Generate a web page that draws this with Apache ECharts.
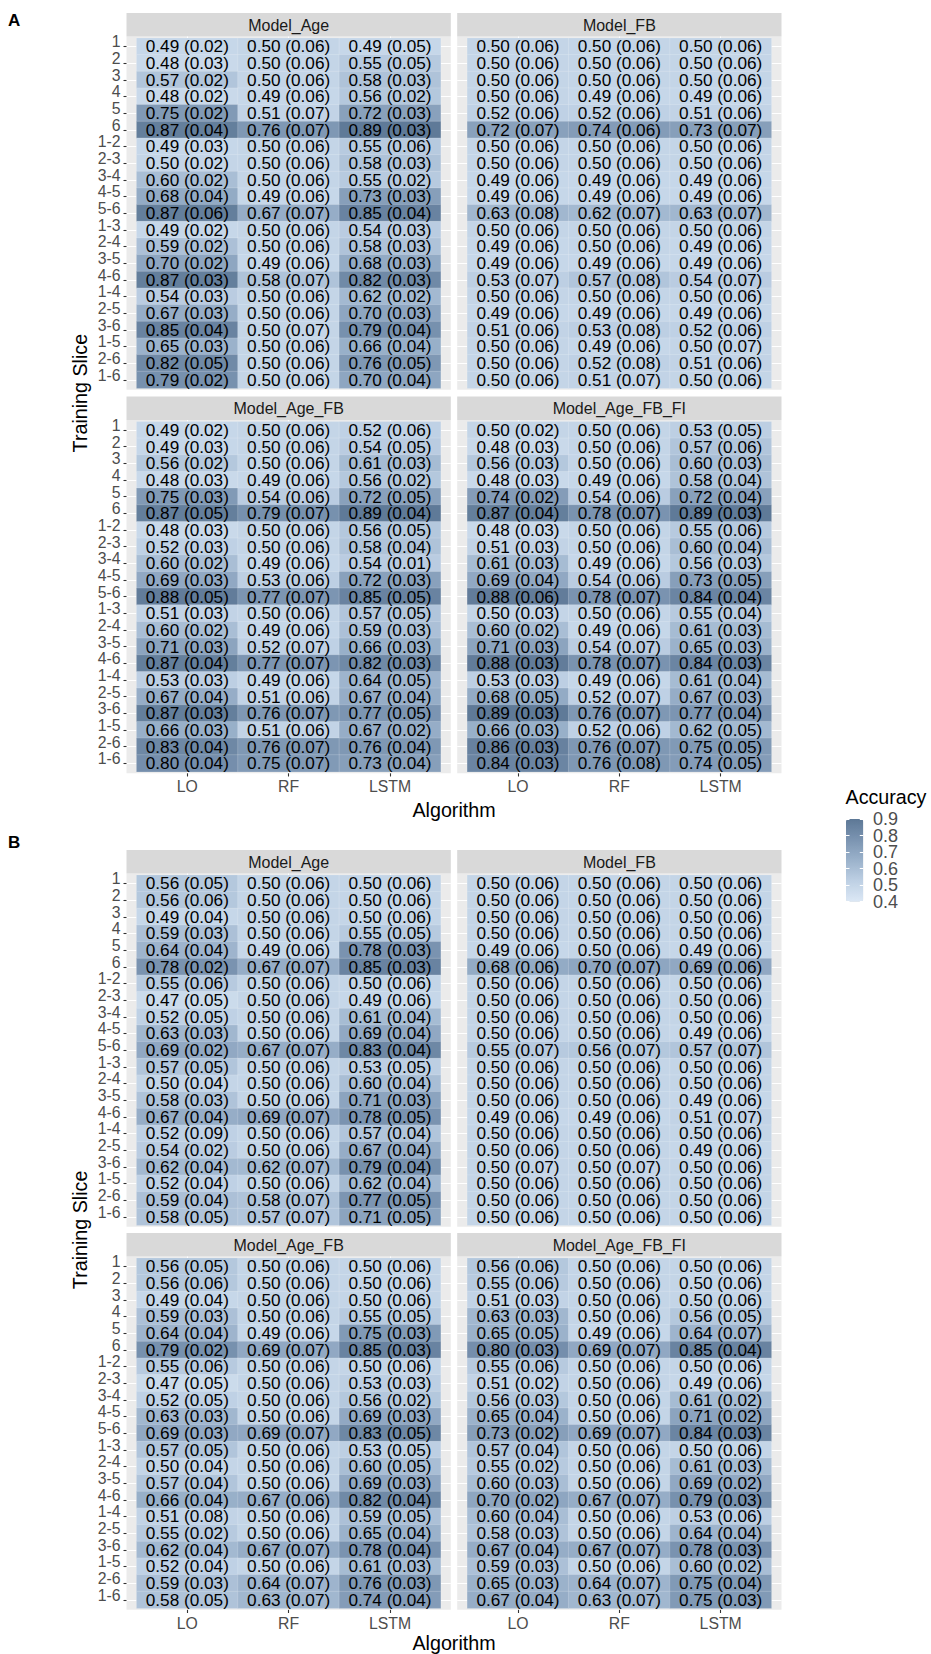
<!DOCTYPE html>
<html>
<head>
<meta charset="utf-8">
<script src="https://cdn.jsdelivr.net/npm/echarts@6/dist/echarts.min.js"></script>
<style>
html,body{margin:0;padding:0;background:#fff;}
#chart{width:931px;height:1654px;}
</style>
</head>
<body>
<div id="chart"></div>
<script>
// ---------------- DATA ----------------
const algorithms = ['LO', 'RF', 'LSTM'];
const slices = ['1','2','3','4','5','6','1-2','2-3','3-4','4-5','5-6','1-3','2-4','3-5','4-6','1-4','2-5','3-6','1-5','2-6','1-6'];
const facetNames = ['Model_Age', 'Model_FB', 'Model_Age_FB', 'Model_Age_FB_FI'];
const legendTicks = ['0.4', '0.5', '0.6', '0.7', '0.8', '0.9'];

// Panel A  (rows = slices, columns = LO, RF, LSTM)
const A_Age_acc = [[0.49,0.50,0.49],[0.48,0.50,0.55],[0.57,0.50,0.58],[0.48,0.49,0.56],[0.75,0.51,0.72],[0.87,0.76,0.89],
  [0.49,0.50,0.55],[0.50,0.50,0.58],[0.60,0.50,0.55],[0.68,0.49,0.73],[0.87,0.67,0.85],
  [0.49,0.50,0.54],[0.59,0.50,0.58],[0.70,0.49,0.68],[0.87,0.58,0.82],
  [0.54,0.50,0.62],[0.67,0.50,0.70],[0.85,0.50,0.79],[0.65,0.50,0.66],[0.82,0.50,0.76],[0.79,0.50,0.70]];
const A_Age_sd = [[0.02,0.06,0.05],[0.03,0.06,0.05],[0.02,0.06,0.03],[0.02,0.06,0.02],[0.02,0.07,0.03],[0.04,0.07,0.03],
  [0.03,0.06,0.06],[0.02,0.06,0.03],[0.02,0.06,0.02],[0.04,0.06,0.03],[0.06,0.07,0.04],
  [0.02,0.06,0.03],[0.02,0.06,0.03],[0.02,0.06,0.03],[0.03,0.07,0.03],
  [0.03,0.06,0.02],[0.03,0.06,0.03],[0.04,0.07,0.04],[0.03,0.06,0.04],[0.05,0.06,0.05],[0.02,0.06,0.04]];

const A_FB_acc = [[0.50,0.50,0.50],[0.50,0.50,0.50],[0.50,0.50,0.50],[0.50,0.49,0.49],[0.52,0.52,0.51],[0.72,0.74,0.73],
  [0.50,0.50,0.50],[0.50,0.50,0.50],[0.49,0.49,0.49],[0.49,0.49,0.49],[0.63,0.62,0.63],
  [0.50,0.50,0.50],[0.49,0.50,0.49],[0.49,0.49,0.49],[0.53,0.57,0.54],
  [0.50,0.50,0.50],[0.49,0.49,0.49],[0.51,0.53,0.52],[0.50,0.49,0.50],[0.50,0.52,0.51],[0.50,0.51,0.50]];
const A_FB_sd = [[0.06,0.06,0.06],[0.06,0.06,0.06],[0.06,0.06,0.06],[0.06,0.06,0.06],[0.06,0.06,0.06],[0.07,0.06,0.07],
  [0.06,0.06,0.06],[0.06,0.06,0.06],[0.06,0.06,0.06],[0.06,0.06,0.06],[0.08,0.07,0.07],
  [0.06,0.06,0.06],[0.06,0.06,0.06],[0.06,0.06,0.06],[0.07,0.08,0.07],
  [0.06,0.06,0.06],[0.06,0.06,0.06],[0.06,0.08,0.06],[0.06,0.06,0.07],[0.06,0.08,0.06],[0.06,0.07,0.06]];

const A_AgeFB_acc = [[0.49,0.50,0.52],[0.49,0.50,0.54],[0.56,0.50,0.61],[0.48,0.49,0.56],[0.75,0.54,0.72],[0.87,0.79,0.89],
  [0.48,0.50,0.56],[0.52,0.50,0.58],[0.60,0.49,0.54],[0.69,0.53,0.72],[0.88,0.77,0.85],
  [0.51,0.50,0.57],[0.60,0.49,0.59],[0.71,0.52,0.66],[0.87,0.77,0.82],
  [0.53,0.49,0.64],[0.67,0.51,0.67],[0.87,0.76,0.77],[0.66,0.51,0.67],[0.83,0.76,0.76],[0.80,0.75,0.73]];
const A_AgeFB_sd = [[0.02,0.06,0.06],[0.03,0.06,0.05],[0.02,0.06,0.03],[0.03,0.06,0.02],[0.03,0.06,0.05],[0.05,0.07,0.04],
  [0.03,0.06,0.05],[0.03,0.06,0.04],[0.02,0.06,0.01],[0.03,0.06,0.03],[0.05,0.07,0.05],
  [0.03,0.06,0.05],[0.02,0.06,0.03],[0.03,0.07,0.03],[0.04,0.07,0.03],
  [0.03,0.06,0.05],[0.04,0.06,0.04],[0.03,0.07,0.05],[0.03,0.06,0.02],[0.04,0.07,0.04],[0.04,0.07,0.04]];

const A_AgeFBFI_acc = [[0.50,0.50,0.53],[0.48,0.50,0.57],[0.56,0.50,0.60],[0.48,0.49,0.58],[0.74,0.54,0.72],[0.87,0.78,0.89],
  [0.48,0.50,0.55],[0.51,0.50,0.60],[0.61,0.49,0.56],[0.69,0.54,0.73],[0.88,0.78,0.84],
  [0.50,0.50,0.55],[0.60,0.49,0.61],[0.71,0.54,0.65],[0.88,0.78,0.84],
  [0.53,0.49,0.61],[0.68,0.52,0.67],[0.89,0.76,0.77],[0.66,0.52,0.62],[0.86,0.76,0.75],[0.84,0.76,0.74]];
const A_AgeFBFI_sd = [[0.02,0.06,0.05],[0.03,0.06,0.06],[0.03,0.06,0.03],[0.03,0.06,0.04],[0.02,0.06,0.04],[0.04,0.07,0.03],
  [0.03,0.06,0.06],[0.03,0.06,0.04],[0.03,0.06,0.03],[0.04,0.06,0.05],[0.06,0.07,0.04],
  [0.03,0.06,0.04],[0.02,0.06,0.03],[0.03,0.07,0.03],[0.03,0.07,0.03],
  [0.03,0.06,0.04],[0.05,0.07,0.03],[0.03,0.07,0.04],[0.03,0.06,0.05],[0.03,0.07,0.05],[0.03,0.08,0.05]];

// Panel B
const B_Age_acc = [[0.56,0.50,0.50],[0.56,0.50,0.50],[0.49,0.50,0.50],[0.59,0.50,0.55],[0.64,0.49,0.78],[0.78,0.67,0.85],
  [0.55,0.50,0.50],[0.47,0.50,0.49],[0.52,0.50,0.61],[0.63,0.50,0.69],[0.69,0.67,0.83],
  [0.57,0.50,0.53],[0.50,0.50,0.60],[0.58,0.50,0.71],[0.67,0.69,0.78],
  [0.52,0.50,0.57],[0.54,0.50,0.67],[0.62,0.62,0.79],[0.52,0.50,0.62],[0.59,0.58,0.77],[0.58,0.57,0.71]];
const B_Age_sd = [[0.05,0.06,0.06],[0.06,0.06,0.06],[0.04,0.06,0.06],[0.03,0.06,0.05],[0.04,0.06,0.03],[0.02,0.07,0.03],
  [0.06,0.06,0.06],[0.05,0.06,0.06],[0.05,0.06,0.04],[0.03,0.06,0.04],[0.02,0.07,0.04],
  [0.05,0.06,0.05],[0.04,0.06,0.04],[0.03,0.06,0.03],[0.04,0.07,0.05],
  [0.09,0.06,0.04],[0.02,0.06,0.04],[0.04,0.07,0.04],[0.04,0.06,0.04],[0.04,0.07,0.05],[0.05,0.07,0.05]];

const B_FB_acc = [[0.50,0.50,0.50],[0.50,0.50,0.50],[0.50,0.50,0.50],[0.50,0.50,0.50],[0.49,0.50,0.49],[0.68,0.70,0.69],
  [0.50,0.50,0.50],[0.50,0.50,0.50],[0.50,0.50,0.50],[0.50,0.50,0.49],[0.55,0.56,0.57],
  [0.50,0.50,0.50],[0.50,0.50,0.50],[0.50,0.50,0.49],[0.49,0.49,0.51],
  [0.50,0.50,0.50],[0.50,0.50,0.49],[0.50,0.50,0.50],[0.50,0.50,0.50],[0.50,0.50,0.50],[0.50,0.50,0.50]];
const B_FB_sd = [[0.06,0.06,0.06],[0.06,0.06,0.06],[0.06,0.06,0.06],[0.06,0.06,0.06],[0.06,0.06,0.06],[0.06,0.07,0.06],
  [0.06,0.06,0.06],[0.06,0.06,0.06],[0.06,0.06,0.06],[0.06,0.06,0.06],[0.07,0.07,0.07],
  [0.06,0.06,0.06],[0.06,0.06,0.06],[0.06,0.06,0.06],[0.06,0.06,0.07],
  [0.06,0.06,0.06],[0.06,0.06,0.06],[0.07,0.07,0.06],[0.06,0.06,0.06],[0.06,0.06,0.06],[0.06,0.06,0.06]];

const B_AgeFB_acc = [[0.56,0.50,0.50],[0.56,0.50,0.50],[0.49,0.50,0.50],[0.59,0.50,0.55],[0.64,0.49,0.75],[0.79,0.69,0.85],
  [0.55,0.50,0.50],[0.47,0.50,0.53],[0.52,0.50,0.56],[0.63,0.50,0.69],[0.69,0.69,0.83],
  [0.57,0.50,0.53],[0.50,0.50,0.60],[0.57,0.50,0.69],[0.66,0.67,0.82],
  [0.51,0.50,0.59],[0.55,0.50,0.65],[0.62,0.67,0.78],[0.52,0.50,0.61],[0.59,0.64,0.76],[0.58,0.63,0.74]];
const B_AgeFB_sd = [[0.05,0.06,0.06],[0.06,0.06,0.06],[0.04,0.06,0.06],[0.03,0.06,0.05],[0.04,0.06,0.03],[0.02,0.07,0.03],
  [0.06,0.06,0.06],[0.05,0.06,0.03],[0.05,0.06,0.02],[0.03,0.06,0.03],[0.03,0.07,0.05],
  [0.05,0.06,0.05],[0.04,0.06,0.05],[0.04,0.06,0.03],[0.04,0.06,0.04],
  [0.08,0.06,0.05],[0.02,0.06,0.04],[0.04,0.07,0.04],[0.04,0.06,0.03],[0.03,0.07,0.03],[0.05,0.07,0.04]];

const B_AgeFBFI_acc = [[0.56,0.50,0.50],[0.55,0.50,0.50],[0.51,0.50,0.50],[0.63,0.50,0.56],[0.65,0.49,0.64],[0.80,0.69,0.85],
  [0.55,0.50,0.50],[0.51,0.50,0.49],[0.56,0.50,0.61],[0.65,0.50,0.71],[0.73,0.69,0.84],
  [0.57,0.50,0.50],[0.55,0.50,0.61],[0.60,0.50,0.69],[0.70,0.67,0.79],
  [0.60,0.50,0.53],[0.58,0.50,0.64],[0.67,0.67,0.78],[0.59,0.50,0.60],[0.65,0.64,0.75],[0.67,0.63,0.75]];
const B_AgeFBFI_sd = [[0.06,0.06,0.06],[0.06,0.06,0.06],[0.03,0.06,0.06],[0.03,0.06,0.05],[0.05,0.06,0.07],[0.03,0.07,0.04],
  [0.06,0.06,0.06],[0.02,0.06,0.06],[0.03,0.06,0.02],[0.04,0.06,0.02],[0.02,0.07,0.03],
  [0.04,0.06,0.06],[0.02,0.06,0.03],[0.03,0.06,0.02],[0.02,0.07,0.03],
  [0.04,0.06,0.06],[0.03,0.06,0.04],[0.04,0.07,0.03],[0.03,0.06,0.02],[0.03,0.07,0.04],[0.04,0.07,0.03]];

// ---------------- LAYOUT ----------------
const FONT = 'Liberation Sans, Arial, sans-serif';
const panelLeft = [126.5, 457.2];
const panelW = 324.3, panelH = 353.3, stripH = 23.5;
const insetX = 10.15, insetY = 1.65;
const stripTop = { A: [13, 396.5], B: [850, 1233] };
const titleY = { A: 810, B: 1643 };
const labelY = { A: 20, B: 842 };

const facets = [
  { panel: 'A', name: facetNames[0], acc: A_Age_acc,     sd: A_Age_sd,     col: 0, row: 0 },
  { panel: 'A', name: facetNames[1], acc: A_FB_acc,      sd: A_FB_sd,      col: 1, row: 0 },
  { panel: 'A', name: facetNames[2], acc: A_AgeFB_acc,   sd: A_AgeFB_sd,   col: 0, row: 1 },
  { panel: 'A', name: facetNames[3], acc: A_AgeFBFI_acc, sd: A_AgeFBFI_sd, col: 1, row: 1 },
  { panel: 'B', name: facetNames[0], acc: B_Age_acc,     sd: B_Age_sd,     col: 0, row: 0 },
  { panel: 'B', name: facetNames[1], acc: B_FB_acc,      sd: B_FB_sd,      col: 1, row: 0 },
  { panel: 'B', name: facetNames[2], acc: B_AgeFB_acc,   sd: B_AgeFB_sd,   col: 0, row: 1 },
  { panel: 'B', name: facetNames[3], acc: B_AgeFBFI_acc, sd: B_AgeFBFI_sd, col: 1, row: 1 }
];

const grids = [], xAxes = [], yAxes = [], series = [], graphics = [];
const white = { color: '#ffffff', width: 1.1 };

facets.forEach((f, i) => {
  const px = panelLeft[f.col];
  const sTop = stripTop[f.panel][f.row];
  const py = sTop + stripH;
  // panel background + facet strip
  graphics.push({ type: 'rect', z: -100, shape: { x: px, y: py, width: panelW, height: panelH }, style: { fill: '#EBEBEB' } });
  graphics.push({ type: 'rect', z: -100, shape: { x: px, y: sTop, width: panelW, height: stripH }, style: { fill: '#D9D9D9' } });
  graphics.push({ type: 'text', z: 100, x: px + panelW / 2, y: sTop + stripH / 2 + 0.5,
    style: { text: f.name, textAlign: 'center', textVerticalAlign: 'middle', fontSize: 16, fontFamily: FONT, fill: '#1A1A1A' } });

  grids.push({ left: px + insetX, top: py + insetY, width: panelW - 2 * insetX, height: panelH - 2 * insetY, show: false });

  const xi = xAxes.length;
  xAxes.push({ gridIndex: i, type: 'category', data: algorithms, position: 'bottom',
    axisLine: { show: false }, axisLabel: { show: false }, splitLine: { show: false },
    axisTick: { show: true, alignWithLabel: true, interval: 0, length: insetY, lineStyle: white } });
  xAxes.push({ gridIndex: i, type: 'category', data: algorithms, position: 'top',
    axisLine: { show: false }, axisLabel: { show: false }, splitLine: { show: false },
    axisTick: { show: true, alignWithLabel: true, interval: 0, length: insetY, lineStyle: white } });
  if (f.row === 1) {
    xAxes.push({ gridIndex: i, type: 'category', data: algorithms, position: 'bottom', offset: insetY,
      axisLine: { show: false }, splitLine: { show: false },
      axisTick: { show: true, alignWithLabel: true, interval: 0, length: 3.2, lineStyle: { color: '#333333', width: 1.1 } },
      axisLabel: { show: true, interval: 0, margin: 5.5, fontSize: 15.8, fontFamily: FONT, color: '#4D4D4D' } });
  }
  const yi = yAxes.length;
  yAxes.push({ gridIndex: i, type: 'category', data: slices, inverse: true, position: 'left',
    axisLine: { show: false }, axisLabel: { show: false }, splitLine: { show: false },
    axisTick: { show: true, alignWithLabel: true, interval: 0, length: insetX, lineStyle: white } });
  yAxes.push({ gridIndex: i, type: 'category', data: slices, inverse: true, position: 'right',
    axisLine: { show: false }, axisLabel: { show: false }, splitLine: { show: false },
    axisTick: { show: true, alignWithLabel: true, interval: 0, length: insetX, lineStyle: white } });
  if (f.col === 0) {
    yAxes.push({ gridIndex: i, type: 'category', data: slices, inverse: true, position: 'left', offset: insetX,
      axisLine: { show: false }, splitLine: { show: false },
      axisTick: { show: true, alignWithLabel: true, interval: 0, length: 3, lineStyle: { color: '#333333', width: 1.1 } },
      axisLabel: { show: true, interval: 0, margin: 6, fontSize: 15.8, fontFamily: FONT, color: '#4D4D4D',
        verticalAlign: 'bottom', lineHeight: 9 } });
  }

  const data = [];
  for (let r = 0; r < slices.length; r++) {
    for (let c = 0; c < algorithms.length; c++) {
      data.push([c, r, f.acc[r][c], f.sd[r][c]]);
    }
  }
  series.push({
    type: 'heatmap', name: f.panel + ' ' + f.name, xAxisIndex: xi, yAxisIndex: yi, data: data,
    itemStyle: { borderColor: 'rgba(255,255,255,0.28)', borderWidth: 0.6 },
    emphasis: { disabled: true },
    label: { show: true, fontSize: 17.2, lineHeight: 15, fontFamily: FONT, color: '#000000',
      formatter: p => p.data[2].toFixed(2) + ' (' + p.data[3].toFixed(2) + ')' }
  });
});

['A', 'B'].forEach(P => {
  graphics.push({ type: 'text', z: 100, x: 8, y: labelY[P],
    style: { text: P, textAlign: 'left', textVerticalAlign: 'middle', fontSize: 17, fontWeight: 'bold', fontFamily: FONT, fill: '#000' } });
  graphics.push({ type: 'text', z: 100, x: (panelLeft[0] + panelLeft[1] + panelW) / 2, y: titleY[P],
    style: { text: 'Algorithm', textAlign: 'center', textVerticalAlign: 'middle', fontSize: 19.7, fontFamily: FONT, fill: '#000' } });
  const top = stripTop[P][0], bottom = stripTop[P][1] + stripH + panelH;
  graphics.push({ type: 'text', z: 100, x: 80, y: (top + bottom) / 2, rotation: Math.PI / 2,
    style: { text: 'Training Slice', textAlign: 'center', textVerticalAlign: 'middle', fontSize: 19.7, fontFamily: FONT, fill: '#000' } });
});
graphics.push({ type: 'text', z: 100, x: 845.5, y: 797,
  style: { text: 'Accuracy', textAlign: 'left', textVerticalAlign: 'middle', fontSize: 19.7, fontFamily: FONT, fill: '#000' } });

// colour-bar tick labels
const lgTop = 819, lgH = 82.7, lgLeft = 846, lgW = 17.3;
const lgi = grids.length;
grids.push({ left: lgLeft, top: lgTop, width: lgW, height: lgH, show: false });
xAxes.push({ gridIndex: lgi, type: 'category', data: [''], show: false });
yAxes.push({ gridIndex: lgi, type: 'category', data: legendTicks, boundaryGap: false,
  position: 'right', z: 10, axisLine: { show: false }, splitLine: { show: false },
  axisTick: { show: true, inside: true, interval: 0, length: 3.5, lineStyle: { color: '#ffffff', width: 1 } },
  axisLabel: { show: true, interval: 0, margin: 9.7, fontSize: 18, lineHeight: 16, fontFamily: FONT, color: '#4D4D4D' } });
yAxes.push({ gridIndex: lgi, type: 'category', data: legendTicks, boundaryGap: false,
  position: 'left', z: 10, axisLine: { show: false }, splitLine: { show: false }, axisLabel: { show: false },
  axisTick: { show: true, inside: true, interval: 0, length: 3.5, lineStyle: { color: '#ffffff', width: 1 } } });

const option = {
  animation: false,
  backgroundColor: '#ffffff',
  textStyle: { fontFamily: FONT },
  grid: grids,
  xAxis: xAxes,
  yAxis: yAxes,
  visualMap: {
    type: 'continuous', min: Number(legendTicks[0]), max: Number(legendTicks[legendTicks.length - 1]), dimension: 2,
    seriesIndex: series.map((s, i) => i), orient: 'vertical', left: lgLeft, top: lgTop,
    itemWidth: lgW, itemHeight: lgH, calculable: false, padding: 0, hoverLink: false,
    inRange: { color: ['#dce8f5', '#bed0e4', '#9bb2cb', '#7b94b1', '#5d7896'] }
  },
  graphic: { elements: graphics },
  series: series
};

const chart = echarts.init(document.getElementById('chart'), null, { renderer: 'svg' });
chart.setOption(option);
</script>
</body>
</html>
